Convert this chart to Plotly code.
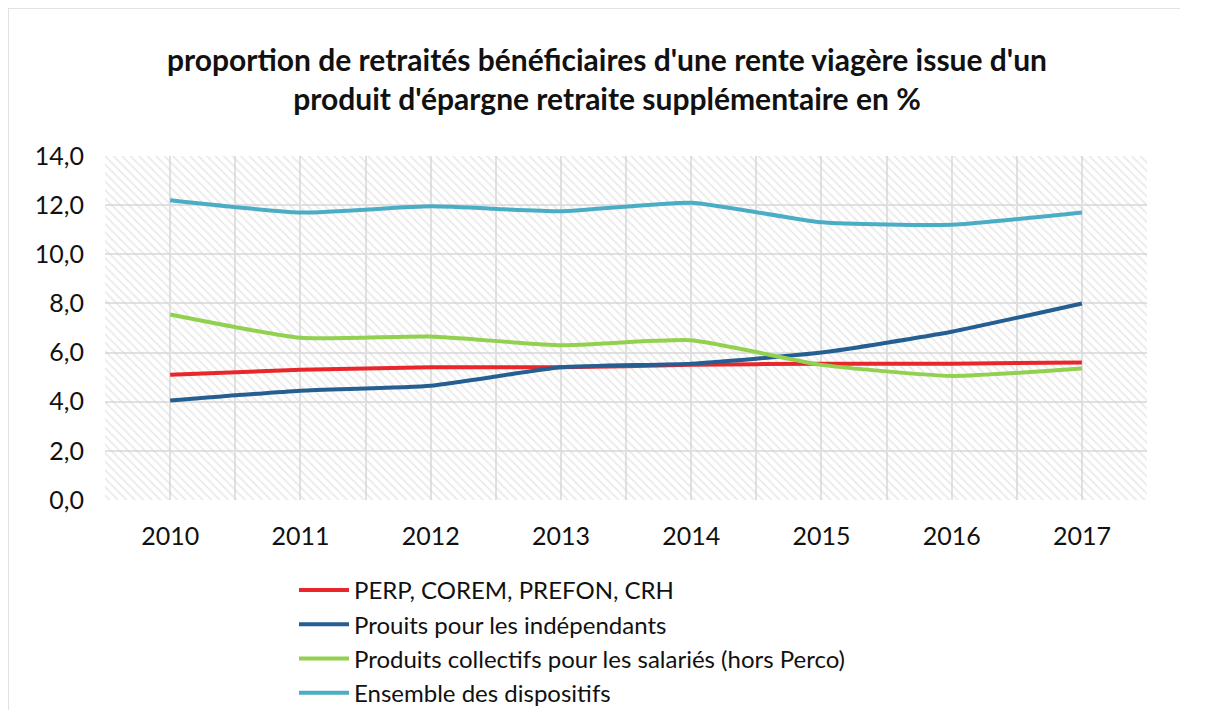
import plotly.graph_objects as go

years = [2010, 2011, 2012, 2013, 2014, 2015, 2016, 2017]
perp = [5.1, 5.3, 5.4, 5.4, 5.5, 5.55, 5.55, 5.6]
independants = [4.05, 4.45, 4.65, 5.4, 5.55, 6.0, 6.85, 8.0]
collectifs = [7.55, 6.6, 6.65, 6.3, 6.5, 5.5, 5.05, 5.35]
ensemble = [12.2, 11.7, 11.95, 11.75, 12.1, 11.3, 11.2, 11.7]

names = ["PERP, COREM, PREFON, CRH", "Prouits pour les indépendants",
         "Produits collectifs pour les salariés (hors Perco)", "Ensemble des dispositifs"]
colors = ["#E8262B", "#255E91", "#92D050", "#4BACC6"]
series = [perp, independants, collectifs, ensemble]

OFF = 8  # page body margin
W, H = 1214 - 2 * OFF, 718 - 2 * OFF
L, R, T, B = 105 - OFF, 1147 - OFF, 156 - OFF, 500 - OFF

def px(x):
    return (x - OFF - L) / (R - L)

def py(y):
    return (B - (y - OFF)) / (B - T)

fig = go.Figure()
# hatched plot-area background
fig.add_trace(go.Scatter(
    x=[2009.5, 2017.5, 2017.5, 2009.5, 2009.5], y=[0, 0, 14, 14, 0],
    fill="toself", mode="lines", line=dict(width=0),
    fillcolor="rgba(255,255,255,0)",
    fillpattern=dict(shape="\\", fgcolor="#d4d4d4", bgcolor="rgba(255,255,255,0)", size=6, solidity=0.3),
    showlegend=False, hoverinfo="skip"))

for i, (n, c, s) in enumerate(zip(names, colors, series)):
    fig.add_trace(go.Scatter(x=years, y=s, name=n, mode="lines",
                             line=dict(color=c, width=4, shape="spline", smoothing=0.5),
                             legendgroup=str(i)))

FONT = "Lato, Open Sans, sans-serif"
fig.update_layout(
    width=W, height=H,
    margin=dict(l=L, r=W - R, t=T, b=H - B, autoexpand=False),
    paper_bgcolor="white", plot_bgcolor="white",
    separators=", ",
    font=dict(family=FONT, color="#111"),
    title=dict(text="proportion de retraités bénéficiaires d'une rente viagère issue d'un<br>produit d'épargne retraite supplémentaire en %",
               x=0.5, xanchor="center", y=1 - (71 - OFF) / H, yanchor="middle",
               font=dict(size=30, family=FONT, color="#111", weight="bold")),
    xaxis=dict(range=[2009.5, 2017.5], tickvals=years, ticktext=[str(y) for y in years],
               showgrid=True, gridcolor="#e1e1e1", gridwidth=1.5,
               minor=dict(dtick=0.5, tick0=2009.5, showgrid=True, gridcolor="#e1e1e1", gridwidth=1.5),
               zeroline=False, showline=False, ticks="", ticklen=0, ticklabelstandoff=19,
               tickfont=dict(size=25, color="#111")),
    yaxis=dict(range=[0, 14], dtick=2, tickformat=".1f", showgrid=True, gridcolor="#e1e1e1",
               gridwidth=1.5, zeroline=False, showline=False, ticks="", ticklabelstandoff=20,
               tickfont=dict(size=25, color="#111")),
    legend=dict(x=px(294), xanchor="left", y=py(568), yanchor="top",
                font=dict(size=24, color="#111"), tracegroupgap=0, itemwidth=50,
                bgcolor="rgba(0,0,0,0)"),
    shapes=[
        dict(type="line", xref="paper", yref="paper", x0=px(8), x1=px(1180),
             y0=py(8), y1=py(8), line=dict(color="#d9d9d9", width=1.5)),
        dict(type="line", xref="paper", yref="paper", x0=px(8), x1=px(8),
             y0=py(8), y1=py(720), line=dict(color="#d9d9d9", width=1.5)),
    ],
)

fig.write_html("out.html")
